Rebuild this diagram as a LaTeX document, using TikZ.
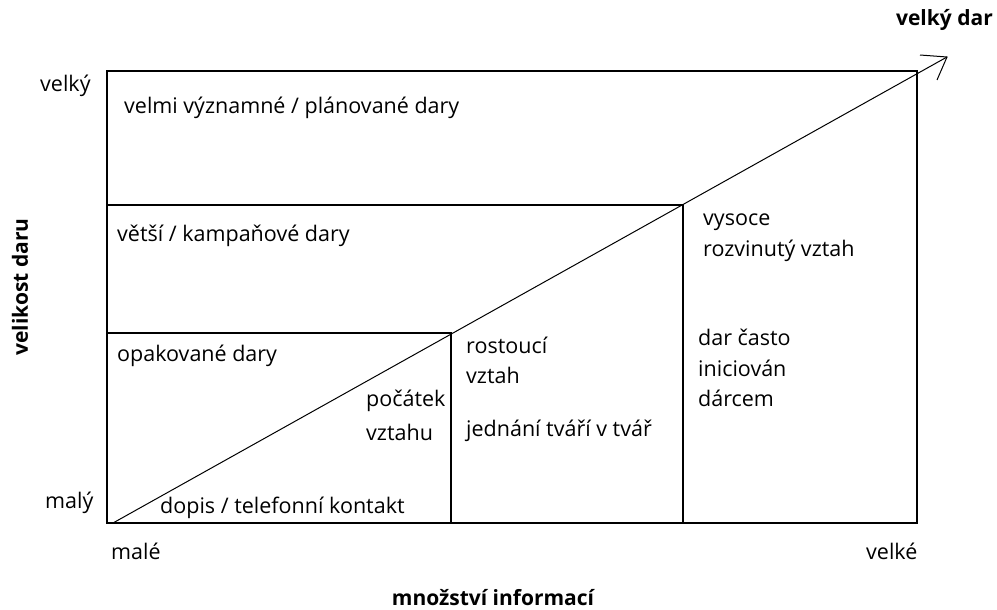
\documentclass[tikz,border=0pt]{standalone}
\usepackage{fontspec}
\setmainfont{Open Sans}
\begin{document}
\begin{tikzpicture}[x=1pt,y=-1pt,
  lbl/.style={anchor=west,inner sep=0pt,font=\fontsize{21.5}{26}\selectfont},
  bold/.style={inner sep=0pt,font=\fontsize{21}{25}\selectfont\bfseries},
  frame/.style={line width=1.2pt},
  diag/.style={line width=1pt}]
\useasboundingbox (0,0) rectangle (997,610);
\fill[white] (0,0) rectangle (997,610);
% corners
\coordinate (TL) at (107,71);
\coordinate (TR) at (917,71);
\coordinate (BL) at (107,523);
\coordinate (BR) at (917,523);
\coordinate (A) at (107,205);
\coordinate (A2) at (683,205);
\coordinate (B) at (107,333);
\coordinate (B2) at (451,333);
\coordinate (C) at (451,523);
\coordinate (D) at (683,523);
\coordinate (S) at (113,523);
\coordinate (E) at (947,57);
\coordinate (H1) at (920,55);
\coordinate (H2) at (937,80);
\draw[frame] (TL) rectangle (BR);
\draw[frame] (A) -- (A2) -- (D);
\draw[frame] (B) -- (B2) -- (C);
\draw[diag] (S) -- (E);
\draw[diag] (H1) -- (E) -- (H2);
% axis labels
\node[lbl] (velky) at (40,86) {velký};
\node[lbl] (maly) at (45,503) {malý};
\node[lbl] (male) at (111,551) {malé};
\node[lbl] (velke) at (866,551) {velké};
\node[bold,anchor=east] (dar) at (993,20) {velký dar};
\node[bold,rotate=90] (vd) at (20,287) {velikost daru};
\node[bold] (mi) at (493,598) {množství informací};
% region labels
\node[lbl] (t1) at (124,108) {velmi významné / plánované dary};
\node[lbl] (t2) at (117,236) {větší / kampaňové dary};
\node[lbl] (t3) at (117,356) {opakované dary};
\node[lbl] (t4) at (366,401) {počátek};
\node[lbl] (t5) at (366,432) {vztahu};
\node[lbl] (t6) at (160,508) {dopis / telefonní kontakt};
\node[lbl] (t7) at (466,345) {rostoucí};
\node[lbl] (t8) at (466,375) {vztah};
\node[lbl] (t9) at (466,431) {jednání tváří v tvář};
\node[lbl] (t10) at (703,222) {vysoce};
\node[lbl] (t11) at (703,251) {rozvinutý vztah};
\node[lbl] (t12) at (698,337) {dar často};
\node[lbl] (t13) at (698,368) {iniciován};
\node[lbl] (t14) at (698,398) {dárcem};
\end{tikzpicture}
\end{document}
